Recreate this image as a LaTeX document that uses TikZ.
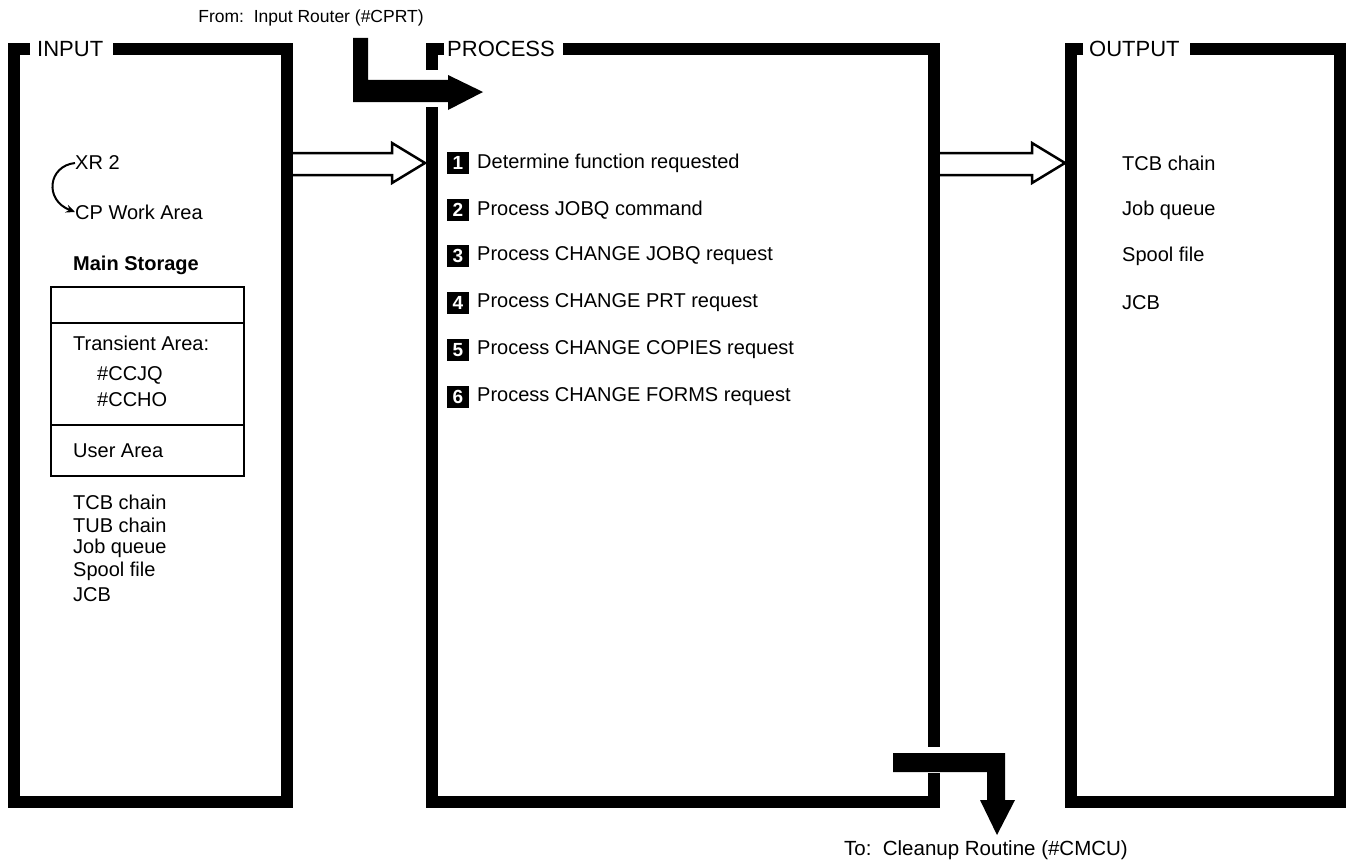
\documentclass[tikz,border=0pt]{standalone}
\usepackage{fontspec}
\setmainfont{Liberation Sans}
\usetikzlibrary{arrows.meta}
\begin{document}
\begin{tikzpicture}[x=1pt,y=-1pt,
  border/.style={line width=12pt, line cap=butt, line join=miter, draw=black},
  title/.style={font=\fontsize{22}{26}\selectfont, anchor=west, inner sep=0pt},
  txt/.style={font=\fontsize{20}{24}\selectfont, anchor=west, inner sep=0pt},
  btxt/.style={font=\fontsize{20}{24}\selectfont\bfseries, anchor=west, inner sep=0pt},
  numbox/.style={fill=black, text=white, font=\fontsize{19}{19}\selectfont\bfseries, minimum size=22pt, inner sep=0pt},
  hollow/.style={draw=black, line width=2.5pt, fill=white, line join=miter},
  solidarrow/.style={fill=black, draw=none}
]
\useasboundingbox (0,0) rectangle (1352,867);

% INPUT box
\draw[border] (30,49) -| (14,802) -| (287,49) -- (113,49);
\node[title] (inputT) at (37,49) {INPUT};

% PROCESS box
\draw[border] (444,49) -- (432,49) -- (432,70);
\draw[border] (432,107) |- (934,802) -- (934,773);
\draw[border] (563,49) -| (934,747);
\node[title] (procT) at (447,49) {PROCESS};

% OUTPUT box
\draw[border] (1083,49) -| (1071,802) -| (1340,49) -- (1190,49);
\node[title] (outT) at (1089,49) {OUTPUT};

% From / To labels
\node[txt, anchor=center, font=\fontsize{17.5}{21}\selectfont] (fromL) at (311,18) {From:\ \ Input Router (\#CPRT)};
\node[txt, anchor=center, font=\fontsize{20.5}{24}\selectfont] (toL) at (986,850) {To:\ \ Cleanup Routine (\#CMCU)};

% dark arrows
\coordinate (inTip) at (483,92);
\coordinate (outTip) at (997,835);
\fill[solidarrow] (353,38) -- (368,38) -- (368,80) -- (448,80) -- (448,75) -- (inTip) -- (448,110) -- (448,102) -- (353,102) -- cycle;
\fill[solidarrow] (893,753) -- (1005,753) -- (1005,800) -- (1015,800) -- (outTip) -- (980,800) -- (987,800) -- (987,772) -- (893,772) -- cycle;

% hollow arrows
\coordinate (h1a) at (293,153);
\coordinate (h1b) at (293,175);
\coordinate (h1tip) at (425,163);
\draw[hollow] (h1a) -- (392,153) -- (392,143) -- (h1tip) -- (392,183) -- (392,175) -- (h1b);
\coordinate (h2a) at (940,153);
\coordinate (h2b) at (940,175);
\coordinate (h2tip) at (1065,163);
\draw[hollow] (h2a) -- (1032,153) -- (1032,143) -- (h2tip) -- (1032,183) -- (1032,175) -- (h2b);

% process items
\foreach \n/\y/\t in {1/163/Determine function requested,
                      2/210/Process JOBQ command,
                      3/256/Process CHANGE JOBQ request,
                      4/303/Process CHANGE PRT request,
                      5/350/Process CHANGE COPIES request,
                      6/397/Process CHANGE FORMS request}{
  \node[numbox] (n\n) at (458,\y) {\n};
  \node[txt] (t\n) at (477,\y) {\t};
}

% INPUT contents
\node[txt] (xr) at (75,163) {XR 2};
\node[txt] (cpw) at (75,212) {CP Work Area};
\draw[line width=2pt, -{Stealth[length=9pt,width=8pt]}] (xr.west) .. controls (48,166) and (44,200) .. (cpw.west);
\node[btxt] (ms) at (73,265) {Main Storage};
\node[draw, line width=2pt, minimum width=193pt, minimum height=189pt, inner sep=0pt, anchor=north west] (store) at (50,286) {};
\draw[line width=2pt] (store.west |- 0,323) -- (store.east |- 0,323);
\draw[line width=2pt] (store.west |- 0,425) -- (store.east |- 0,425);
\node[txt] (ta) at (73,343) {Transient Area:};
\node[txt] (ccjq) at (97,375) {\#CCJQ};
\node[txt] (ccho) at (97,400) {\#CCHO};
\node[txt] (ua) at (73,451) {User Area};
\node[txt] (i1) at (73,502) {TCB chain};
\node[txt] (i2) at (73,525) {TUB chain};
\node[txt] (i3) at (73,548) {Job queue};
\node[txt] (i4) at (73,571) {Spool file};
\node[txt] (i5) at (73,595) {JCB};

% OUTPUT contents
\node[txt] (o1) at (1122,163) {TCB chain};
\node[txt] (o2) at (1122,210) {Job queue};
\node[txt] (o3) at (1122,256) {Spool file};
\node[txt] (o4) at (1122,303) {JCB};
\end{tikzpicture}
\end{document}
